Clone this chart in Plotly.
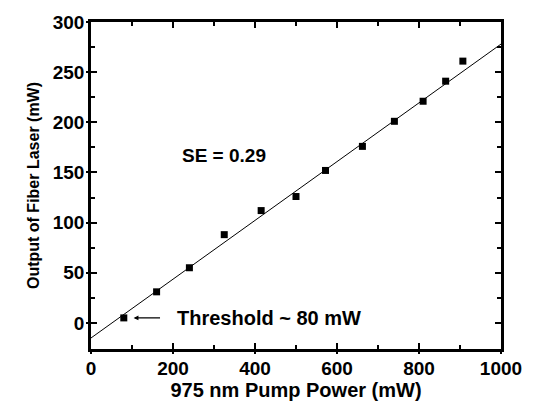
import plotly.graph_objects as go

pump_power = [80, 160, 240, 325, 415, 500, 572, 662, 740, 810, 865, 907]
laser_output = [5, 31, 55, 88, 112, 126, 152, 176, 201, 221, 241, 261]
fit_slope = 0.293
fit_intercept = -15.0
fit_x = [0, 1000]
fit_y = [fit_intercept + fit_slope * v for v in fit_x]
x_ticks = [0, 200, 400, 600, 800, 1000]
x_minor = [100, 300, 500, 700, 900]
y_ticks = [0, 50, 100, 150, 200, 250, 300]
y_minor = [-25, 25, 75, 125, 175, 225, 275]
x_range = [0, 1000]
y_range = [-26, 300]

FONT = "Liberation Sans, Arial, sans-serif"

fig = go.Figure()
fig.add_trace(go.Scatter(x=fit_x, y=fit_y, mode="lines",
                         line=dict(color="black", width=1), showlegend=False))
fig.add_trace(go.Scatter(x=pump_power, y=laser_output, mode="markers",
                         marker=dict(symbol="square", size=7, color="black"),
                         showlegend=False))

axis_common = dict(showline=True, linecolor="black", linewidth=2.5, mirror="allticks",
                   ticks="inside", tickcolor="black", tickwidth=1.5, ticklen=6,
                   showgrid=False, zeroline=False,
                   tickfont=dict(family=FONT, size=19, color="black"))

fig.update_xaxes(range=x_range, tickvals=x_ticks,
                 ticktext=[f"<b>{v}</b>" for v in x_ticks],
                 minor=dict(tickvals=x_minor, ticks="inside", ticklen=4,
                            tickcolor="black", tickwidth=1.5),
                 title=dict(text="<b>975 nm Pump Power (mW)</b>", standoff=6,
                            font=dict(family=FONT, size=20, color="black")),
                 **axis_common)
fig.update_yaxes(range=y_range, tickvals=y_ticks,
                 ticktext=[f"<b>{v}</b>" for v in y_ticks],
                 minor=dict(tickvals=y_minor, ticks="inside", ticklen=4,
                            tickcolor="black", tickwidth=1.5),
                 title=dict(text="<b>Output of Fiber Laser (mW)</b>", standoff=10,
                            font=dict(family=FONT, size=16, color="black")),
                 **axis_common)

# short outward stubs so the major ticks cross the bottom/left axes
fig.update_layout(
    xaxis3=dict(overlaying="x", side="bottom", range=x_range, tickvals=x_ticks,
                ticks="outside", ticklen=4, tickwidth=1.5, tickcolor="black",
                showticklabels=False, showgrid=False, zeroline=False, showline=False),
    yaxis3=dict(overlaying="y", side="left", range=y_range, tickvals=y_ticks,
                ticks="outside", ticklen=4, tickwidth=1.5, tickcolor="black",
                showticklabels=False, showgrid=False, zeroline=False, showline=False),
)
fig.add_trace(go.Scatter(x=[None], y=[None], xaxis="x3", yaxis="y3", showlegend=False,
                         hoverinfo="skip"))

fig.add_annotation(x=104, y=5, ax=172, ay=5, xref="x", yref="y", axref="x", ayref="y",
                   text="", showarrow=True, arrowhead=2, arrowsize=0.8, arrowwidth=1.2,
                   arrowcolor="black")
fig.add_annotation(x=205, y=5, xref="x", yref="y", xanchor="left", yanchor="middle",
                   text="<b>Threshold ~ 80 mW</b>", showarrow=False,
                   font=dict(family=FONT, size=20, color="black"))
fig.add_annotation(x=218, y=167, xref="x", yref="y", xanchor="left", yanchor="middle",
                   text="<b>SE = 0.29</b>", showarrow=False,
                   font=dict(family=FONT, size=19, color="black"))

fig.update_layout(width=534, height=411, plot_bgcolor="white", paper_bgcolor="white",
                  margin=dict(l=91, r=30, t=20, b=62))

fig.write_html("out.html")
